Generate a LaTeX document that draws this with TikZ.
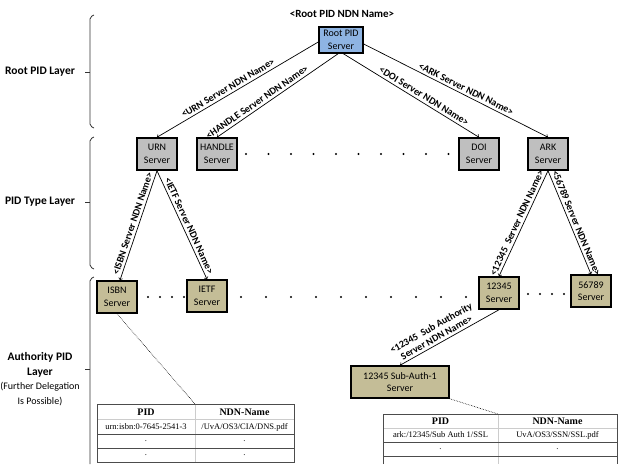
\documentclass[tikz,border=0pt]{standalone}
\usepackage{fontspec}
\setmainfont{Carlito}
\newfontfamily\tabfont{Liberation Serif}
\definecolor{rootblue}{RGB}{142,180,227}
\definecolor{authtan}{RGB}{196,189,151}

\begin{document}
\begin{tikzpicture}[x=1pt,y=-1pt,
		srv/.style={draw,line width=1.5pt,minimum width=40pt,minimum height=32pt,inner sep=1pt,align=center,font=\fontsize{10}{12.5}\selectfont},
		rootsrv/.style={srv,fill=rootblue,minimum width=44pt,minimum height=26pt},
		typesrv/.style={srv,fill=black!25!white},
		authsrv/.style={srv,fill=authtan},
		lnk/.style={->,line width=0.7pt},
		lbl/.style={sloped,above,inner sep=2.5pt,font=\bfseries\fontsize{10}{11}\selectfont},
		brk/.style={line width=0.8pt,black!80!white,rounded corners=2pt},
		cell/.style={inner sep=0pt,font=\tabfont\fontsize{8.5}{10}\selectfont},
		head/.style={inner sep=0pt,font=\tabfont\bfseries\fontsize{10}{11}\selectfont}]
		\useasboundingbox (0,0) rectangle (618,464);
		\node[font=\bfseries\fontsize{11}{13}\selectfont] (title) at (342,14) {<Root PID NDN Name>};
		\node[rootsrv] (root) at (341,40) {Root PID\\Server};
		\node[typesrv] (urn) at (157,154) {URN\\Server};
		\node[typesrv] (handle) at (217,154) {HANDLE\\Server};
		\node[typesrv] (doi) at (479,154) {DOI\\Server};
		\node[typesrv] (ark) at (548,154) {ARK\\Server};
		\node[authsrv] (isbn) at (117,297) {ISBN\\Server};
		\node[authsrv] (ietf) at (207,296) {IETF\\Server};
		\node[authsrv] (auth1) at (499,293) {12345\\Server};
		\node[authsrv] (auth2) at (591,291) {56789\\Server};
		\node[authsrv,minimum width=98pt] (sub) at (400,382) {12345 Sub-Auth-1\\Server};
		\draw[lnk] (root.185) -- node[lbl,pos=0.54] {<URN Server NDN Name>} (urn.north);
		\draw[lnk] (root.258) -- node[lbl,pos=0.64] {<HANDLE Server NDN Name>} (handle.north);
		\draw[lnk] (root.280) -- node[lbl,pos=0.57] {<DOI Server NDN Name>} (doi.north);
		\draw[lnk] (root.350) -- node[lbl,pos=0.54] {<ARK Server NDN Name>} (ark.north);
		\draw[lnk] (urn.south) -- node[lbl,pos=0.5] {<ISBN Server NDN Name>} (isbn.80);
		\draw[lnk] (urn.south) -- node[lbl,pos=0.53] {<IETF Server NDN Name>} (ietf.north);
		\draw[lnk] (ark.south) -- node[lbl,pos=0.52] {<12345\ \ Server NDN Name>} (auth1.north);
		\draw[lnk] (ark.south) -- node[lbl,pos=0.53] {<56789 Server NDN Name>} (auth2.north);
		\draw[lnk] (auth1.south) -- node[lbl,pos=0.6,align=center] {<12345\ \ Sub Authority\\Server NDN Name>} (sub.north);
		\foreach \x in {246,268.5,...,449} {
			\fill (\x,154) circle[radius=1.1pt];
		}
		\foreach \x/\y in {148/297,160/297,172/297,184/297,528/294,540/294,552/294,564/294} {
			\fill (\x,\y) circle[radius=1.1pt];
		}
		\foreach \x in {241,266,...,466} {
			\fill (\x,297) circle[radius=1.1pt];
		}
		\node[font=\bfseries\fontsize{11.5}{14}\selectfont] (lroot) at (40,72) {Root PID Layer};
		\node[font=\bfseries\fontsize{11.5}{14}\selectfont] (ltype) at (40,202) {PID Type Layer};
		\node[align=center,inner sep=0pt,font=\bfseries\fontsize{11.5}{15}\selectfont] (lauth) at (40,379) {Authority PID\\Layer\\[-1pt]\mdseries\fontsize{10}{12}\selectfont(Further Delegation\\\mdseries\fontsize{10}{12}\selectfont Is Possible)};
		\draw[brk] (94,15) -- (90,17) -- (90,126) -- (94,128);
		\draw[brk] (90,72) -- (85,72);
		\draw[brk] (94,137) -- (90,139) -- (90,267) -- (94,269);
		\draw[brk] (90,202) -- (85,202);
		\draw[brk] (94,277) -- (90,279) -- (90,464);
		\draw[brk] (90,369) -- (85,369);
		\coordinate (ltab) at (195,404);
		\coordinate (rtab) at (498,414);
		\draw[densely dotted,line width=0.6pt] (isbn.south) -- (ltab);
		\draw[densely dotted,line width=0.6pt] (sub.south east) -- (rtab);
		\draw[black!20!white] (97,419) -- (294,419) (195,404) -- (195,462);
		\draw[black!70!white] (97,434) -- (294,434) (97,448) -- (294,448);
		\draw[black!70!white] (97,404) rectangle (294,462);
		\draw[black!20!white] (383,428) -- (617,428) (498,414) -- (498,464);
		\draw[black!70!white] (383,442) -- (617,442) (383,456) -- (617,456);
		\draw[black!70!white] (383,464) -- (383,414) -- (617,414) -- (617,464);
		\foreach \t/\x/\y [count=\i] in {PID/146/412,NDN-Name/244.5/412} {
			\node[head] (lhead\i) at (\x,\y) {\t};
		}
		\foreach \t/\x/\y [count=\i] in {{urn:isbn:0-7645-2541-3}/146/427,{/UvA/OS3/CIA/DNS.pdf}/244.5/427,./146/441,./244.5/441,./146/455,./244.5/455} {
			\node[cell] (lcell\i) at (\x,\y) {\t};
		}
		\foreach \t/\x/\y [count=\i] in {PID/440.5/421,NDN-Name/557.5/421} {
			\node[head] (rhead\i) at (\x,\y) {\t};
		}
		\foreach \t/\x/\y [count=\i] in {{ark:/12345/Sub Auth 1/SSL}/440.5/435,{UvA/OS3/SSN/SSL.pdf}/557.5/435,./440.5/449,./557.5/449} {
			\node[cell] (rcell\i) at (\x,\y) {\t};
		}
\end{tikzpicture}
\end{document}
